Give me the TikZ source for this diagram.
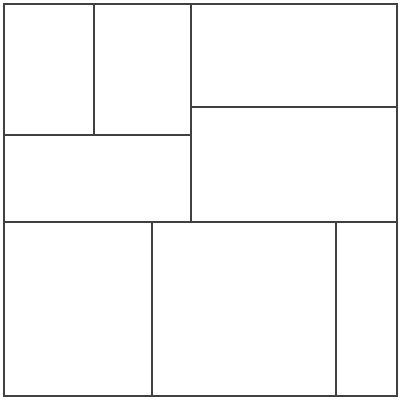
\documentclass[tikz,border=0pt]{standalone}
\begin{document}
\begin{tikzpicture}[x=1pt,y=-1pt,
  edge/.style={draw=black!75,line width=1.3pt,line cap=rect}]
\useasboundingbox (0,0) rectangle (400,400);
\fill[white] (0,0) rectangle (400,400);
% outer frame
\draw[edge] (4,4) rectangle (397,396);
% main horizontal split
\draw[edge] (4,222) -- (397,222);
% top section
\draw[edge] (191,4) -- (191,222);
\draw[edge] (94,4) -- (94,135);
\draw[edge] (4,135) -- (191,135);
\draw[edge] (191,107) -- (397,107);
% bottom section
\draw[edge] (152,222) -- (152,396);
\draw[edge] (336,222) -- (336,396);
\end{tikzpicture}
\end{document}
